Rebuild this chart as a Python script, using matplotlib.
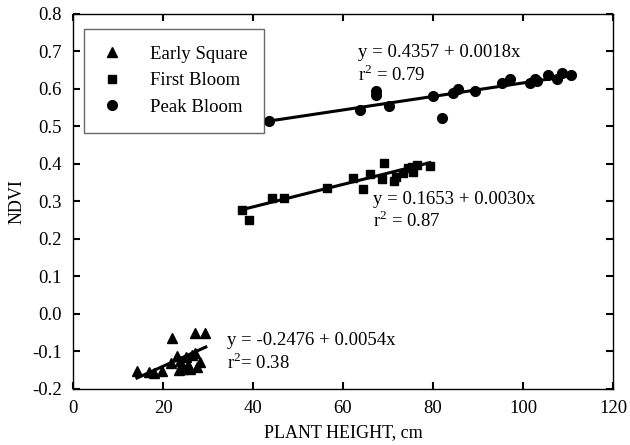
import numpy as np
import matplotlib
matplotlib.use("Agg")
import matplotlib.pyplot as plt

plt.rcParams["font.family"] = ["Liberation Serif", "DejaVu Serif"]
plt.rcParams["mathtext.fontset"] = "custom"
plt.rcParams["mathtext.rm"] = "Liberation Serif"

# Early Square
es_x = [14.2, 16.8, 18.0, 19.8, 21.8, 22.0, 23.0, 23.5, 23.8, 24.5, 25.0, 25.5,
        26.0, 26.5, 27.0, 27.6, 28.2, 27.0, 29.3]
es_y = [-0.152, -0.155, -0.157, -0.153, -0.130, -0.064, -0.112, -0.150, -0.125,
        -0.147, -0.115, -0.135, -0.147, -0.110, -0.105, -0.142, -0.128, -0.051, -0.051]

# First Bloom
fb_x = [37.5, 39.2, 44.2, 46.9, 56.4, 62.2, 64.5, 66.0, 68.6, 69.0, 71.3, 71.8,
        73.3, 74.5, 75.3, 75.6, 76.4, 79.3]
fb_y = [0.277, 0.251, 0.309, 0.309, 0.335, 0.362, 0.333, 0.373, 0.360, 0.402,
        0.355, 0.366, 0.375, 0.389, 0.391, 0.379, 0.397, 0.393]

# Peak Bloom
pb_x = [43.6, 63.8, 67.3, 67.3, 70.3, 79.9, 81.9, 84.5, 85.6, 89.3, 95.3, 97.1,
        101.6, 102.7, 103.2, 105.6, 107.5, 108.6, 110.6]
pb_y = [0.515, 0.544, 0.593, 0.584, 0.555, 0.581, 0.522, 0.589, 0.599, 0.593,
        0.615, 0.626, 0.615, 0.626, 0.622, 0.637, 0.626, 0.642, 0.637]

# regression lines: (intercept, slope, x range)
fits = [(-0.2476, 0.0054, 14.2, 29.5),
        (0.1653, 0.0030, 37.5, 79.3),
        (0.4357, 0.0018, 43.6, 110.6)]

fig = plt.figure(figsize=(6.3, 4.45), dpi=100)
ax = fig.add_axes([0.116, 0.126, 0.857, 0.843])

ax.plot(es_x, es_y, "^", color="black", markersize=6.5, label="Early Square")
ax.plot(fb_x, fb_y, "s", color="black", markersize=6, label="First Bloom")
ax.plot(pb_x, pb_y, "o", color="black", markersize=7, label="Peak Bloom")

for a, b, x0, x1 in fits:
    xs = np.array([x0, x1])
    ax.plot(xs, a + b * xs, color="black", linewidth=2.2)

fs = 13.5
ax.set_xlim(0, 120)
ax.set_ylim(-0.2, 0.8)
ax.set_xticks(np.arange(0, 121, 20))
ax.set_yticks(np.round(np.arange(-0.2, 0.81, 0.1), 1))
ax.set_yticklabels(["%.1f" % v for v in np.arange(-0.2, 0.81, 0.1)])
ax.tick_params(direction="in", top=True, right=True, length=5, width=1.5,
               labelsize=fs, pad=8)
for s in ax.spines.values():
    s.set_linewidth(1)

ax.set_xlabel("PLANT HEIGHT, cm", fontsize=13, labelpad=5)
ax.set_ylabel("NDVI", fontsize=13, labelpad=5)

ax.text(63.3, 0.696, "y = 0.4357 + 0.0018x", fontsize=fs, va="center")
ax.text(63.3, 0.637, "r$^2$ = 0.79", fontsize=fs, va="center")
ax.text(66.7, 0.305, "y = 0.1653 + 0.0030x", fontsize=fs, va="center")
ax.text(66.7, 0.248, "r$^2$ = 0.87", fontsize=fs, va="center")
ax.text(34.2, -0.072, "y = -0.2476 + 0.0054x", fontsize=fs, va="center")
ax.text(34.2, -0.131, "r$^2$= 0.38", fontsize=fs, va="center")

leg = ax.legend(loc="upper left", bbox_to_anchor=(0.02, 0.96), fontsize=fs,
                frameon=True, fancybox=False, borderpad=0.9, handlelength=1.2,
                handletextpad=1.4, labelspacing=0.5, borderaxespad=0)
leg.get_frame().set_edgecolor("#444444")
leg.get_frame().set_linewidth(1)

fig.savefig("out.png", dpi=100)
